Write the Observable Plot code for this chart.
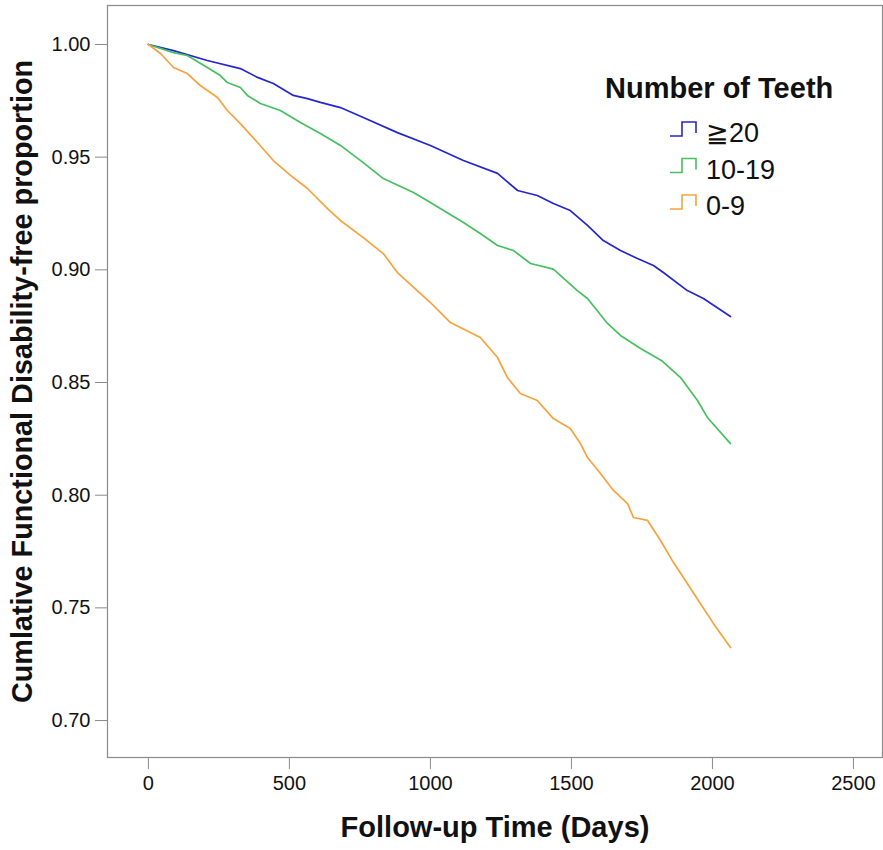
<!DOCTYPE html>
<html>
<head>
<meta charset="utf-8">
<script src="https://cdn.jsdelivr.net/npm/d3@7"></script>
<script src="https://cdn.jsdelivr.net/npm/@observablehq/plot@0.6"></script>
<style>
  html, body { margin: 0; padding: 0; background: #fff; }
  #wrap { position: relative; width: 883px; height: 850px; font-family: "Liberation Sans", Arial, sans-serif; }
  #legend { position: absolute; left: 0; top: 0; pointer-events: none; }
</style>
</head>
<body>
<div id="wrap"></div>
<script>
// ---- data ----
const groups = ["≧20", "10-19", "0-9"];
const groupColors = ["#2626d0", "#46c05e", "#f8a23c"];
const legendTitle = "Number of Teeth";

const blueDays = [0,89,209,326,387,443,514,564,610,681,762,883,1000,1117,1238,1309,1379,1436,1496,1557,1613,1674,1734,1791,1826,1911,1968,2064];
const blueSurv = [1.000,0.9973,0.9929,0.9893,0.9854,0.9827,0.9774,0.9760,0.9743,0.9720,0.9676,0.9609,0.9552,0.9485,0.9428,0.9352,0.9330,0.9294,0.9263,0.9197,0.9130,0.9086,0.9050,0.9019,0.8988,0.8908,0.8873,0.8793];

const greenDays = [0,89,138,209,255,280,326,351,397,468,539,610,681,762,833,940,1000,1117,1177,1238,1294,1355,1436,1521,1557,1628,1674,1745,1819,1887,1947,1982,2064];
const greenSurv = [1.000,0.9964,0.9951,0.9898,0.9862,0.9831,0.9809,0.9774,0.9738,0.9707,0.9654,0.9605,0.9552,0.9476,0.9405,0.9343,0.9299,0.9210,0.9161,0.9108,0.9086,0.9028,0.9003,0.8908,0.8873,0.8762,0.8709,0.8651,0.8598,0.8522,0.8420,0.8345,0.8229];

const orangeDays = [0,43,89,138,184,245,280,326,387,443,504,564,635,681,762,833,883,1000,1071,1177,1238,1273,1319,1379,1436,1496,1532,1557,1603,1649,1699,1720,1770,1816,1862,1911,1957,2004,2064];
const orangeSurv = [1.000,0.9960,0.9898,0.9871,0.9818,0.9765,0.9707,0.9649,0.9565,0.9485,0.9419,0.9361,0.9272,0.9219,0.9143,0.9072,0.8988,0.8855,0.8766,0.8700,0.8611,0.8522,0.8451,0.8420,0.8340,0.8296,0.8229,0.8167,0.8096,0.8021,0.7963,0.7901,0.7888,0.7799,0.7701,0.7608,0.7519,0.7430,0.7324];

const xTicks = [0, 500, 1000, 1500, 2000, 2500];
const yTicks = [0.70, 0.75, 0.80, 0.85, 0.90, 0.95, 1.00];
const xTitle = "Follow-up Time (Days)";
const yTitle = "Cumlative Functional Disability-free proportion";

// ---- build table ----
const seriesDays = [blueDays, greenDays, orangeDays];
const seriesSurv = [blueSurv, greenSurv, orangeSurv];
const rows = [];
groups.forEach((g, i) => {
  seriesDays[i].forEach((d, j) => rows.push({group: g, day: d, surv: seriesSurv[i][j]}));
});

const font = "'Liberation Sans', Arial, sans-serif";

const chart = Plot.plot({
  width: 883,
  height: 850,
  marginLeft: 107,
  marginRight: 1,
  marginTop: 5,
  marginBottom: 93,
  style: {fontFamily: font, background: "#fff", color: "#111"},
  x: {domain: [-145, 2603]},
  y: {domain: [0.6836, 1.0173]},
  color: {domain: groups, range: groupColors},
  marks: [
    Plot.frame({stroke: "#8a8a8a", strokeWidth: 1.2}),
    Plot.axisX(xTicks, {tickSize: 12, tickPadding: 6, tickFormat: d3.format("d"), fontSize: 20, stroke: "#8a8a8a", fill: "#111", label: null}),
    Plot.axisX([], {label: xTitle, labelAnchor: "center", labelArrow: "none", labelOffset: 79, fontSize: 29, fontWeight: "bold", fill: "#111", tickSize: 0}),
    Plot.axisY(yTicks, {tickSize: 12, tickPadding: 5, tickFormat: d3.format(".2f"), fontSize: 20, stroke: "#8a8a8a", fill: "#111", label: null}),
    Plot.axisY([], {label: yTitle, labelAnchor: "center", labelArrow: "none", labelOffset: 96, fontSize: 28.8, fontWeight: "bold", fill: "#111", tickSize: 0}),
    Plot.line(rows, {x: "day", y: "surv", z: "group", stroke: "group", strokeWidth: 1.7, curve: "linear"})
  ]
});

const wrap = document.getElementById("wrap");
wrap.appendChild(chart);

// ---- legend overlay ----
const leg = d3.select(wrap).append("svg")
  .attr("id", "legend").attr("width", 883).attr("height", 850)
  .style("font-family", font);
leg.append("text").attr("x", 605).attr("y", 98)
  .attr("font-size", 29).attr("font-weight", "bold").attr("fill", "#111")
  .text(legendTitle);
groups.forEach((g, i) => {
  const base = 142 + i * 36.5;
  const gy = leg.append("g").attr("transform", `translate(670,${base - 20})`);
  gy.append("path").attr("d", "M0,14 H12 V0 H26 V11")
    .attr("fill", "none").attr("stroke", groupColors[i]).attr("stroke-width", 1.6);
  leg.append("text").attr("x", 706).attr("y", base)
    .attr("font-size", 27).attr("fill", "#111").text(g);
});
</script>
</body>
</html>
